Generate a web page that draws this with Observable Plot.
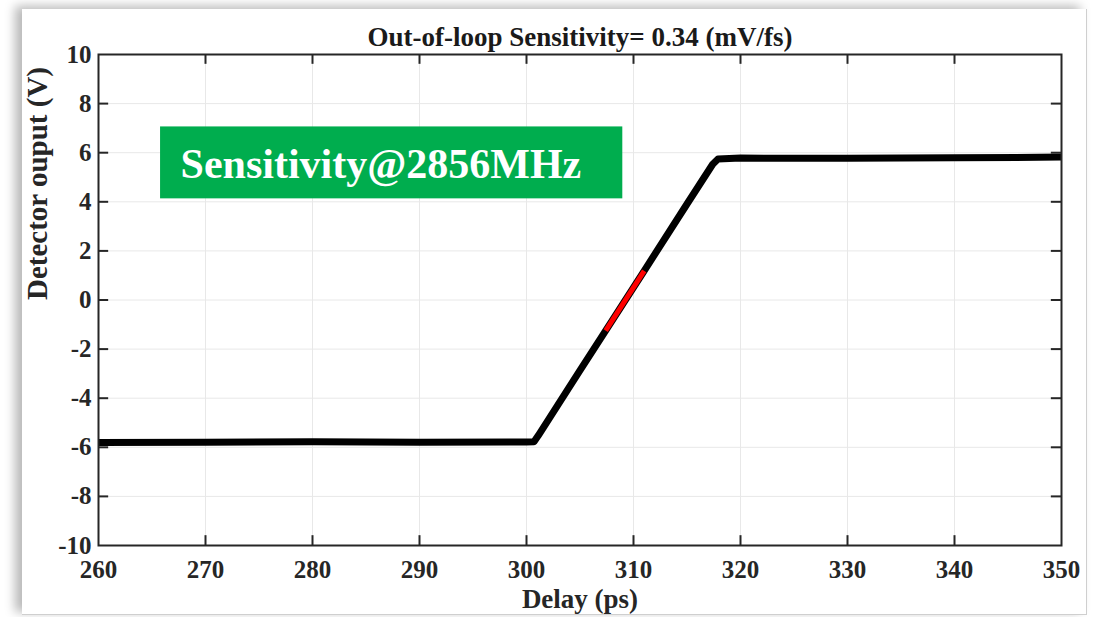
<!DOCTYPE html>
<html>
<head>
<meta charset="utf-8">
<script src="https://cdn.jsdelivr.net/npm/d3@7"></script>
<script src="https://cdn.jsdelivr.net/npm/@observablehq/plot@0.6"></script>
<style>
  html, body { margin: 0; padding: 0; background: #ffffff; width: 1094px; height: 617px; overflow: hidden; }
  #card { position: absolute; left: 22px; top: 9px; width: 1064px; height: 605px; background: #fff;
          box-shadow: -7px -3px 10px rgba(0,0,0,0.28); border-right: 1px solid #cfcfcf; border-bottom: 1px solid #cfcfcf; }
  #chart { position: absolute; left: 0; top: 0; }
  #chart svg { background: transparent !important; }
</style>
</head>
<body>
<div id="card"></div>
<div id="chart"></div>
<script>
// ---- data ----
const delay  = [260, 270, 280, 290, 300, 300.7, 301.1, 305, 307.4, 311.0, 315, 317.4, 317.9, 320, 330, 340, 350];
const output = [-5.8, -5.79, -5.77, -5.79, -5.78, -5.77, -5.52, -2.87, -1.25, 1.19, 3.91, 5.53, 5.74, 5.78, 5.77, 5.79, 5.82];
const fitDelay  = [307.4, 311.0];
const fitOutput = [-1.25, 1.19];
const xTicks = [260, 270, 280, 290, 300, 310, 320, 330, 340, 350];
const yTicks = [-10, -8, -6, -4, -2, 0, 2, 4, 6, 8, 10];
const titleText = "Out-of-loop Sensitivity= 0.34 (mV/fs)";
const xLabel = "Delay (ps)";
const yLabel = "Detector ouput (V)";
const badgeText = "Sensitivity@2856MHz";
const badgeX = [265.8, 309.0];
const badgeY = [4.12, 7.05];

const trace = delay.map((d, i) => ({delay: d, output: output[i]}));
const fit = fitDelay.map((d, i) => ({delay: d, output: fitOutput[i]}));

const FONT = "'Liberation Serif', 'Times New Roman', serif";
const innerX = xTicks.slice(1, -1);
const innerY = yTicks.slice(1, -1);

const chart = Plot.plot({
  width: 1094,
  height: 617,
  marginLeft: 98,
  marginRight: 33,
  marginTop: 54,
  marginBottom: 72,
  style: {fontFamily: FONT, fontWeight: "bold", background: "transparent", color: "#262626"},
  x: {domain: [260, 350]},
  y: {domain: [-10, 10]},
  marks: [
    Plot.gridX(innerX, {stroke: "#e8e8e8", strokeOpacity: 1, strokeWidth: 1}),
    Plot.gridY(innerY, {stroke: "#e8e8e8", strokeOpacity: 1, strokeWidth: 1}),
    Plot.rect([0], {x1: () => badgeX[0], x2: () => badgeX[1], y1: () => badgeY[0], y2: () => badgeY[1], fill: "#00ad4e"}),
    Plot.text([badgeText], {x: () => badgeX[0], y: () => (badgeY[0] + badgeY[1]) / 2, text: d => d, textAnchor: "start", dx: 20, dy: 2,
      fill: "white", fontSize: 42, fontWeight: "bold", fontFamily: FONT}),
    Plot.line(trace, {x: "delay", y: "output", stroke: "black", strokeWidth: 7, strokeLinejoin: "round", strokeLinecap: "butt"}),
    Plot.line(fit, {x: "delay", y: "output", stroke: "#ff0000", strokeWidth: 5, strokeLinecap: "butt"}),
    // tick labels
    Plot.axisX({anchor: "bottom", ticks: xTicks, tickSize: 0, tickPadding: 15, fontSize: 25, fontWeight: "bold", label: null, tickFormat: d => String(d)}),
    Plot.axisY({anchor: "left", ticks: yTicks, tickSize: 0, tickPadding: 7, fontSize: 25, fontWeight: "bold", label: null, tickFormat: d => String(d)}),
    // inward tick marks on all sides
    Plot.ruleX(innerX, {x: d => d, y1: -10, y2: -9.6, stroke: "#262626", strokeWidth: 2}),
    Plot.ruleX(innerX, {x: d => d, y1: 9.6, y2: 10, stroke: "#262626", strokeWidth: 2}),
    Plot.ruleY(innerY, {y: d => d, x1: 260, x2: 260.95, stroke: "#262626", strokeWidth: 2}),
    Plot.ruleY(innerY, {y: d => d, x1: 349.05, x2: 350, stroke: "#262626", strokeWidth: 2}),
    Plot.frame({stroke: "#262626", strokeWidth: 2}),
    // titles
    Plot.text([titleText], {frameAnchor: "top", dy: -9, textAnchor: "middle", lineAnchor: "bottom", text: d => d, fontSize: 27, fontWeight: "bold", fill: "#1a1a1a"}),
    Plot.text([xLabel], {frameAnchor: "bottom", dy: 62, lineAnchor: "bottom", text: d => d, fontSize: 27, fontWeight: "bold", fill: "#262626"}),
    Plot.text([yLabel], {frameAnchor: "left", dx: -61, rotate: -90, text: d => d, fontSize: 29, fontWeight: "bold", fill: "#262626"})
  ]
});
document.getElementById("chart").appendChild(chart);
</script>
</body>
</html>
